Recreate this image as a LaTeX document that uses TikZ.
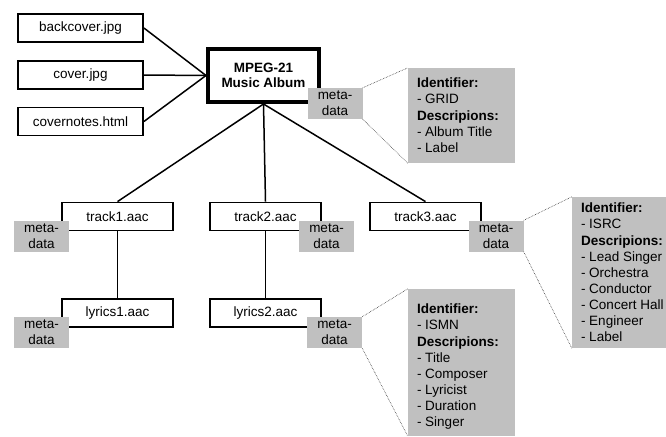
\documentclass[tikz,border=0pt]{standalone}
\usepackage{fontspec}
\setmainfont{Liberation Sans}
\usetikzlibrary{calc}
\definecolor{metagray}{RGB}{192,192,192}
\begin{document}
\begin{tikzpicture}[x=1pt,y=-1pt,
  font=\fontsize{13.5}{16.15}\selectfont,
  filebox/.style={draw, line width=1.8pt, fill=white, minimum width=111pt, minimum height=28pt, inner sep=0pt},
  sidebox/.style={filebox, minimum width=125pt},
  albumbox/.style={draw, line width=4pt, fill=white, minimum width=111pt, minimum height=53pt, inner sep=0pt, align=center, font=\fontsize{13.5}{15}\selectfont\bfseries},
  metabox/.style={fill=metagray, minimum width=55pt, minimum height=31pt, inner sep=0pt, align=center, font=\fontsize{13.5}{16}\selectfont},
  infobox/.style={fill=metagray, inner sep=0pt},
  infotext/.style={anchor=north west, inner sep=0pt, align=left},
  conn/.style={line width=1.5pt},
  dotconn/.style={line width=0.6pt, densely dotted, black!80}]
\useasboundingbox (0,0) rectangle (666,436);

% file nodes
\node[sidebox] (backcover) at (80.5,28) {backcover.jpg};
\node[sidebox] (cover) at (80.5,75) {cover.jpg};
\node[sidebox] (covernotes) at (80.5,121.5) {covernotes.html};
\node[albumbox] (album) at (263.5,75.5) {MPEG-21\\Music Album};

\node[filebox] (track1) at (117.5,216.5) {track1.aac};
\node[filebox] (track2) at (265.5,216.5) {track2.aac};
\node[filebox] (track3) at (425.5,216.5) {track3.aac};
\node[filebox] (lyrics1) at (117.5,313) {lyrics1.aac};
\node[filebox] (lyrics2) at (265.5,313) {lyrics2.aac};

% connectors
\draw[conn] (backcover.east) -- (album.west);
\draw[conn] (cover.east) -- (album.west);
\draw[conn] (covernotes.east) -- (album.west);
\draw[conn] (album.south) -- (track1.north);
\draw[conn] (album.south) -- (track2.north);
\draw[conn] (album.south) -- (track3.north);
\draw[conn] (track1.south) -- (lyrics1.north);
\draw[conn] (track2.south) -- (lyrics2.north);

% metadata tags
\node[metabox] (albummeta) at (335,103.5) {meta-\\data};
\node[metabox] (track1meta) at (41.5,236) {meta-\\data};
\node[metabox] (track2meta) at (326.5,236.5) {meta-\\data};
\node[metabox] (track3meta) at (496,236) {meta-\\data};
\node[metabox] (lyrics1meta) at (41.5,332) {meta-\\data};
\node[metabox] (lyrics2meta) at (334.5,332.5) {meta-\\data};

% info boxes
\node[infobox, minimum width=107pt, minimum height=95pt] (albuminfo) at (461.5,115.5) {};
\node[infobox, minimum width=94pt, minimum height=151pt] (track3info) at (619,272.5) {};
\node[infobox, minimum width=107pt, minimum height=147pt] (lyrics2info) at (461.5,362.5) {};

\node[infotext] (albumtext) at ($(albuminfo.north west)+(9,10)$)
  {\textbf{Identifier:}\\- GRID\\\textbf{Descripions:}\\- Album Title\\- Label};
\node[infotext] (track3text) at ($(track3info.north west)+(9,6)$)
  {\textbf{Identifier:}\\- ISRC\\\textbf{Descripions:}\\- Lead Singer\\- Orchestra\\- Conductor\\- Concert Hall\\- Engineer\\- Label};
\node[infotext] (lyrics2text) at ($(lyrics2info.north west)+(9,15)$)
  {\textbf{Identifier:}\\- ISMN\\\textbf{Descripions:}\\- Title\\- Composer\\- Lyricist\\- Duration\\- Singer};

% dotted call-out lines
\draw[dotconn] (albummeta.north east) -- (albuminfo.north west);
\draw[dotconn] (albummeta.south east) -- (albuminfo.south west);
\draw[dotconn] (track3meta.north east) -- (track3info.north west);
\draw[dotconn] (track3meta.south east) -- (track3info.south west);
\draw[dotconn] (lyrics2meta.north east) -- (lyrics2info.north west);
\draw[dotconn] (lyrics2meta.south east) -- (lyrics2info.south west);
\end{tikzpicture}
\end{document}
